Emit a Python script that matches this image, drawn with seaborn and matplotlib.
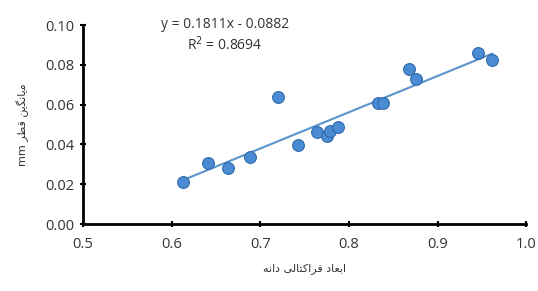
import numpy as np
import matplotlib
matplotlib.use("Agg")
import matplotlib.pyplot as plt
import seaborn as sns

# fractal dimension vs mean diameter (mm)
fractal_dim = [0.613, 0.641, 0.664, 0.688, 0.720, 0.743, 0.764, 0.775, 0.779, 0.788,
               0.833, 0.839, 0.868, 0.876, 0.946, 0.962]
mean_diam = [0.0211, 0.0307, 0.0281, 0.0337, 0.0638, 0.0397, 0.0462, 0.0442, 0.0470, 0.0487,
             0.0608, 0.0608, 0.0779, 0.0729, 0.0859, 0.0824]
x_ticks = [0.5, 0.6, 0.7, 0.8, 0.9, 1.0]
y_ticks = [0.00, 0.02, 0.04, 0.06, 0.08, 0.10]
eq_text = "y = 0.1811x - 0.0882\nR$^2$ = 0.8694"

# Persian labels in visual (shaped) order:
# x: "ابعاد فراکتالی دانه", y: "میانگین قطر mm"
x_label = ("\ufeea\ufee7\ufe8d\ufea9 "
           "\ufbfd\ufedf\ufe8e\ufe98\ufb90\ufe8d\ufeae\ufed3 "
           "\ufea9\ufe8e\ufecc\ufe91\ufe8d")
y_label = ("mm \ufeae\ufec4\ufed7 "
           "\ufee6\ufbfe\ufb95\ufee7\ufe8e\ufbfe\ufee3")

sns.set_style("white")
plt.rcParams['font.family'] = ['Open Sans', 'DejaVu Sans']

fig = plt.figure(figsize=(5.38, 2.91), dpi=100)
ax = fig.add_axes([0.154, 0.230, 0.824, 0.684])

sns.regplot(x=fractal_dim, y=mean_diam, ci=None, ax=ax, truncate=True,
            scatter_kws=dict(s=72, color="#4a8bd3", edgecolor="#2f6aab", linewidths=0.8, alpha=1, zorder=3),
            line_kws=dict(color="#5b93cc", lw=1.5, zorder=2))

ax.set_xlim(0.5, 1.0)
ax.set_ylim(0.0, 0.10)
ax.set_xticks(x_ticks)
ax.set_yticks(y_ticks)
ax.set_xticklabels([f"{t:.1f}" for t in x_ticks])
ax.set_yticklabels([f"{t:.2f}" for t in y_ticks])
ax.tick_params(axis="both", direction="inout", length=5, width=1.5, colors="black",
               labelcolor="#333333", labelsize=10.5, bottom=True, left=True)
ax.tick_params(axis="x", pad=7)

for side in ["top", "right"]:
    ax.spines[side].set_visible(False)
for side in ["left", "bottom"]:
    ax.spines[side].set_color("black")
    ax.spines[side].set_linewidth(2)

ax.text(0.32, 1.04, eq_text, transform=ax.transAxes, ha="center", va="top",
        fontsize=10, color="#333333", linespacing=1.25)

ax.set_xlabel(x_label, fontsize=8, color="#333333", family=['DejaVu Sans'], labelpad=8)
ax.set_ylabel(y_label, fontsize=8, color="#333333", family=['DejaVu Sans'], labelpad=12)

fig.savefig("out.png", dpi=100, facecolor="white")
